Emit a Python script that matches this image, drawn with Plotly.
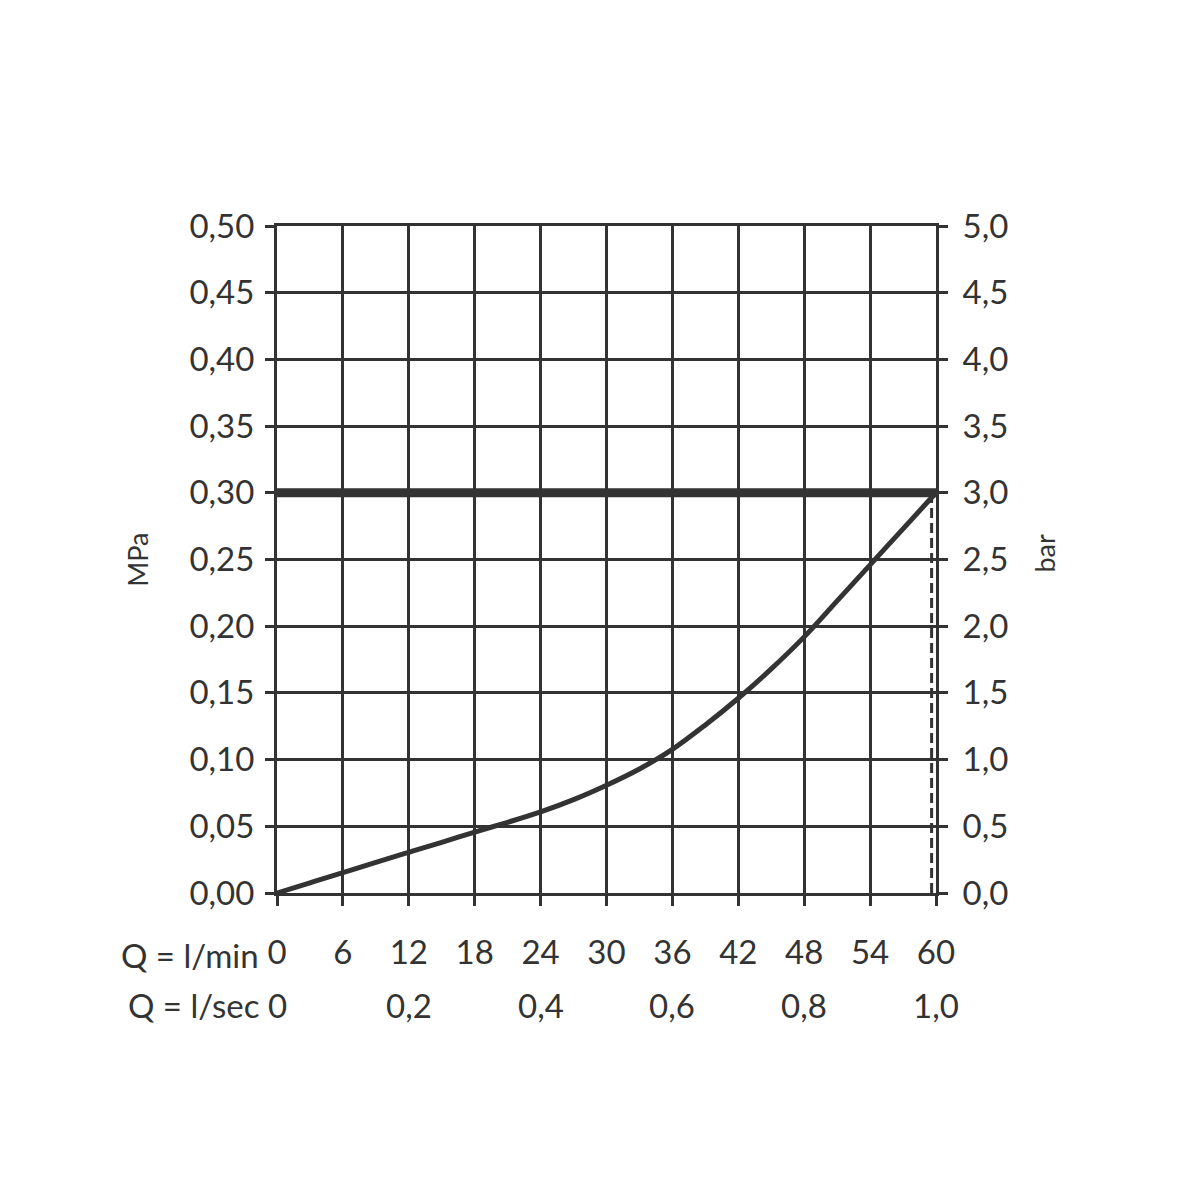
import plotly.graph_objects as go

# Data
flow_lmin = [0, 3, 6, 9, 12, 15, 18, 21, 24, 27, 30, 33, 36, 39, 42, 45, 48, 51, 54, 57, 60]
pressure_mpa = [0.0, 0.0076, 0.0152, 0.023, 0.0305, 0.038, 0.0457, 0.053, 0.0608, 0.070,
                0.0808, 0.093, 0.1077, 0.126, 0.146, 0.168, 0.192, 0.219, 0.246, 0.273, 0.30]
limit_pressure = 0.30
limit_flow = 59.6

x_tick_vals = [0, 6, 12, 18, 24, 30, 36, 42, 48, 54, 60]
x_tick_text = ["0", "6", "12", "18", "24", "30", "36", "42", "48", "54", "60"]
sec_tick_vals = [0, 12, 24, 36, 48, 60]
sec_tick_text = ["0", "0,2", "0,4", "0,6", "0,8", "1,0"]
y_left_vals = [0, 0.05, 0.10, 0.15, 0.20, 0.25, 0.30, 0.35, 0.40, 0.45, 0.50]
y_left_text = ["0,00", "0,05", "0,10", "0,15", "0,20", "0,25", "0,30", "0,35", "0,40", "0,45", "0,50"]
y_right_vals = [0, 0.5, 1.0, 1.5, 2.0, 2.5, 3.0, 3.5, 4.0, 4.5, 5.0]
y_right_text = ["0,0", "0,5", "1,0", "1,5", "2,0", "2,5", "3,0", "3,5", "4,0", "4,5", "5,0"]

INK = "#333333"
FONT = "Lato, Noto Sans, sans-serif"
FS = 33

fig = go.Figure()

# thick limit line
fig.add_trace(go.Scatter(x=[0, 60], y=[limit_pressure, limit_pressure], mode="lines",
                         line=dict(color=INK, width=9), hoverinfo="skip", showlegend=False))
# dashed vertical line
fig.add_trace(go.Scatter(x=[limit_flow, limit_flow], y=[0, limit_pressure], mode="lines",
                         line=dict(color=INK, width=3, dash="10px,5px"), hoverinfo="skip", showlegend=False))
# curve
fig.add_trace(go.Scatter(x=flow_lmin, y=pressure_mpa, mode="lines",
                         line=dict(color=INK, width=5, shape="spline", smoothing=1.0),
                         showlegend=False))
# invisible trace for right axis
fig.add_trace(go.Scatter(x=[0, 60], y=[0, 5], yaxis="y2", mode="lines",
                         line=dict(color="rgba(0,0,0,0)"), hoverinfo="skip", showlegend=False))

fig.update_layout(
    width=1200, height=1200,
    margin=dict(l=269, r=272, t=218, b=315),
    paper_bgcolor="white", plot_bgcolor="white",
    font=dict(family=FONT, color=INK, size=FS),
    xaxis=dict(range=[0, 60], tickvals=x_tick_vals, ticktext=x_tick_text,
               showgrid=True, gridcolor=INK, gridwidth=2.5,
               showline=True, linecolor=INK, linewidth=3, mirror=True,
               ticks="outside", ticklen=10, tickwidth=2.5, tickcolor=INK,
               ticklabelstandoff=18, zeroline=False,
               tickfont=dict(size=FS, family=FONT, color=INK)),
    yaxis=dict(range=[0, 0.5], tickvals=y_left_vals, ticktext=y_left_text,
               showgrid=True, gridcolor=INK, gridwidth=2.5,
               showline=True, linecolor=INK, linewidth=3, mirror=True,
               ticks="outside", ticklen=9, tickwidth=2.5, tickcolor=INK,
               ticklabelstandoff=4, zeroline=False,
               tickfont=dict(size=FS, family=FONT, color=INK)),
    yaxis2=dict(range=[0, 5], tickvals=y_right_vals, ticktext=y_right_text,
                overlaying="y", side="right", showgrid=False, zeroline=False,
                showline=True, linecolor=INK, linewidth=3,
                ticks="outside", ticklen=9, tickwidth=2.5, tickcolor=INK,
                ticklabelstandoff=8,
                tickfont=dict(size=FS, family=FONT, color=INK)),
)

# Second row of x labels (l/sec)
for v, t in zip(sec_tick_vals, sec_tick_text):
    fig.add_annotation(x=v, y=-0.168, xref="x", yref="paper", text=t, showarrow=False,
                       font=dict(size=FS, family=FONT, color=INK), xanchor="center", yanchor="middle")

# Row prefixes
fig.add_annotation(x=-0.025, y=-0.093, xref="paper", yref="paper", text="Q = l/min", showarrow=False,
                   font=dict(size=FS, family=FONT, color=INK), xanchor="right", yanchor="middle")
fig.add_annotation(x=-0.025, y=-0.168, xref="paper", yref="paper", text="Q = l/sec", showarrow=False,
                   font=dict(size=FS, family=FONT, color=INK), xanchor="right", yanchor="middle")

# Axis titles
fig.add_annotation(x=-0.212, y=0.50, xref="paper", yref="paper", text="MPa", showarrow=False,
                   textangle=-90, font=dict(size=27, family=FONT, color=INK), xanchor="center", yanchor="middle")
fig.add_annotation(x=1.165, y=0.51, xref="paper", yref="paper", text="bar", showarrow=False,
                   textangle=-90, font=dict(size=27, family=FONT, color=INK), xanchor="center", yanchor="middle")

fig.write_html("out.html")
